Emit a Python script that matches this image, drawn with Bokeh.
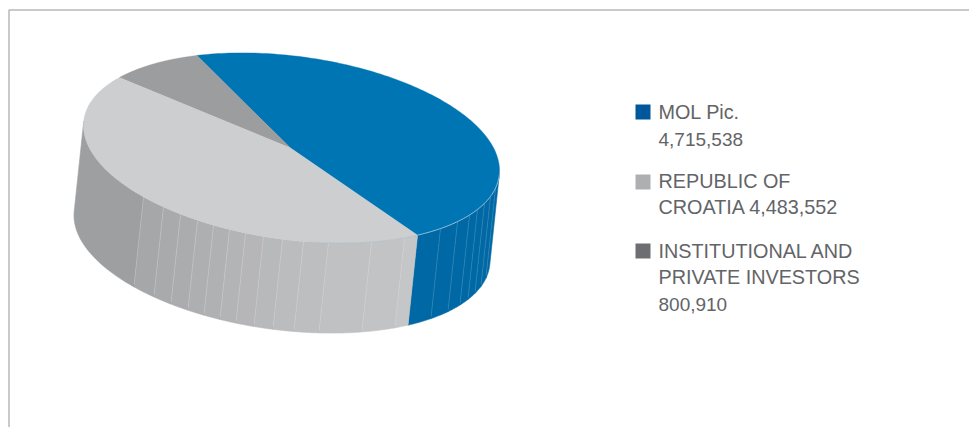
import numpy as np
from bokeh.plotting import figure
from bokeh.models import Range1d
from bokeh.core.properties import value
from bokeh.embed import file_html
from bokeh.resources import INLINE

# data, in the order the slices run round the pie
categories = ["MOL Pic.", "INSTITUTIONAL AND PRIVATE INVESTORS", "REPUBLIC OF CROATIA"]
shares = [4715538, 800910, 4483552]
legend_lines = [["MOL Pic.", "4,715,538"],
                ["REPUBLIC OF", "CROATIA 4,483,552"],
                ["INSTITUTIONAL AND", "PRIVATE INVESTORS", "800,910"]]

# style
top_colors = ["#0075b4", "#9c9d9f", "#cdced0"]
legend_colors = ["#00589b", "#aeafb1", "#6d6e71"]
text_color = "#636467"
border_color = "#b9b9b9"
blue_side = "#0069a5"

# layout (page pixels)
W, H = 969, 427
cx, cy, A, B, D = 291.0, 147.5, 208.0, 92.4, 22.5
dx, dy = -9.5, 90.0
start_deg = 52.7
sil_deg = 2.66
blue_seams = [495, 490, 484, 477, 469, 457, 440]
light_seams = [404, 371, 328, 303, 282, 263, 245, 229, 213, 197, 180, 163, 143]

p = figure(width=W, height=H, x_range=Range1d(0, W), y_range=Range1d(H, 0),
           output_backend="svg", toolbar_location=None, min_border=0,
           x_axis_type=None, y_axis_type=None, outline_line_color=None)
p.grid.visible = False
p.background_fill_color = "white"


def edge(t_deg):
    t = np.radians(np.asarray(t_deg, dtype=float))
    return cx + A * np.cos(t), cy + B * np.sin(t) + D * np.cos(t)


def seam_angle(x):
    return float(np.degrees(np.arccos((x - cx) / A)))


def strip(a, b, color):
    ts = np.linspace(a, b, 30)
    x, y = edge(ts)
    xs = np.concatenate([x, x[::-1] + dx])
    ys = np.concatenate([y, y[::-1] + dy])
    p.patch(xs, ys, fill_color=color, line_color=color, line_width=0.6)


def hexmix(c1, c2, f):
    a = [int(c1[i:i + 2], 16) for i in (1, 3, 5)]
    b = [int(c2[i:i + 2], 16) for i in (1, 3, 5)]
    return "#%02x%02x%02x" % tuple(round(u + (v - u) * f) for u, v in zip(a, b))


# side wall: blue part
b_angles = [sil_deg] + [seam_angle(x) for x in blue_seams] + [start_deg]
for a, b in zip(b_angles[:-1], b_angles[1:]):
    strip(a, b, blue_side)

# side wall: light part
l_angles = [start_deg] + [seam_angle(x) for x in light_seams] + [180 + sil_deg]
n = len(l_angles) - 1
for i, (a, b) in enumerate(zip(l_angles[:-1], l_angles[1:])):
    col = "#9e9fa1" if i == n - 1 else hexmix("#c5c6c8", "#a6a7a9", i / (n - 2))
    strip(a, b, col)

# seams
for seams, col, al in ((blue_seams, "#8fbcd6", 0.35), (light_seams, "#e6e7e8", 0.45)):
    ang = [seam_angle(x) for x in seams]
    x, y = edge(ang)
    p.multi_line([[u, u + dx * 0.98] for u in x], [[v, v + dy * 0.97] for v in y],
                 line_color=col, line_alpha=al, line_width=0.7)

# top faces, sized by the shares
fractions = np.array(shares, dtype=float) / sum(shares)
t0 = start_deg
for frac, col in zip(fractions, top_colors):
    t1 = t0 - 360 * frac
    x, y = edge(np.linspace(t0, t1, 160))
    p.patch(np.concatenate([[cx - 1], x]), np.concatenate([[cy], y]),
            fill_color=col, line_color=col, line_width=0.4)
    t0 = t1

# rim highlight
x, y = edge(np.linspace(sil_deg, start_deg, 60))
p.line(x, y, line_color="#a9cde0", line_width=0.8)
x, y = edge(np.linspace(start_deg, 85, 30))
p.line(x, y, line_color="#9db8c8", line_width=0.6, line_alpha=0.7)

# frame
p.line([8.5, 8.5, W], [H, 9.5, 9.5], line_color=border_color, line_width=1.5)

# legend
box_top = [104, 174, 243]
text_y = [[111.5, 138.5], [180.5, 206.5], [250.5, 276.5, 303.5]]
for col, top, lines, ys in zip(legend_colors, box_top, legend_lines, text_y):
    p.quad(left=635, right=650, top=top, bottom=top + 15, fill_color=col, line_color=None)
    sizes = ["19px" if ln[0].isdigit() else "19.8px" for ln in lines]
    p.text(x=[658] * len(lines), y=ys, text=lines, text_font=value("Liberation Sans"),
           text_font_size=sizes, text_color=text_color, text_baseline="middle", text_align="left")

open("out.html", "w").write(file_html(p, INLINE))
